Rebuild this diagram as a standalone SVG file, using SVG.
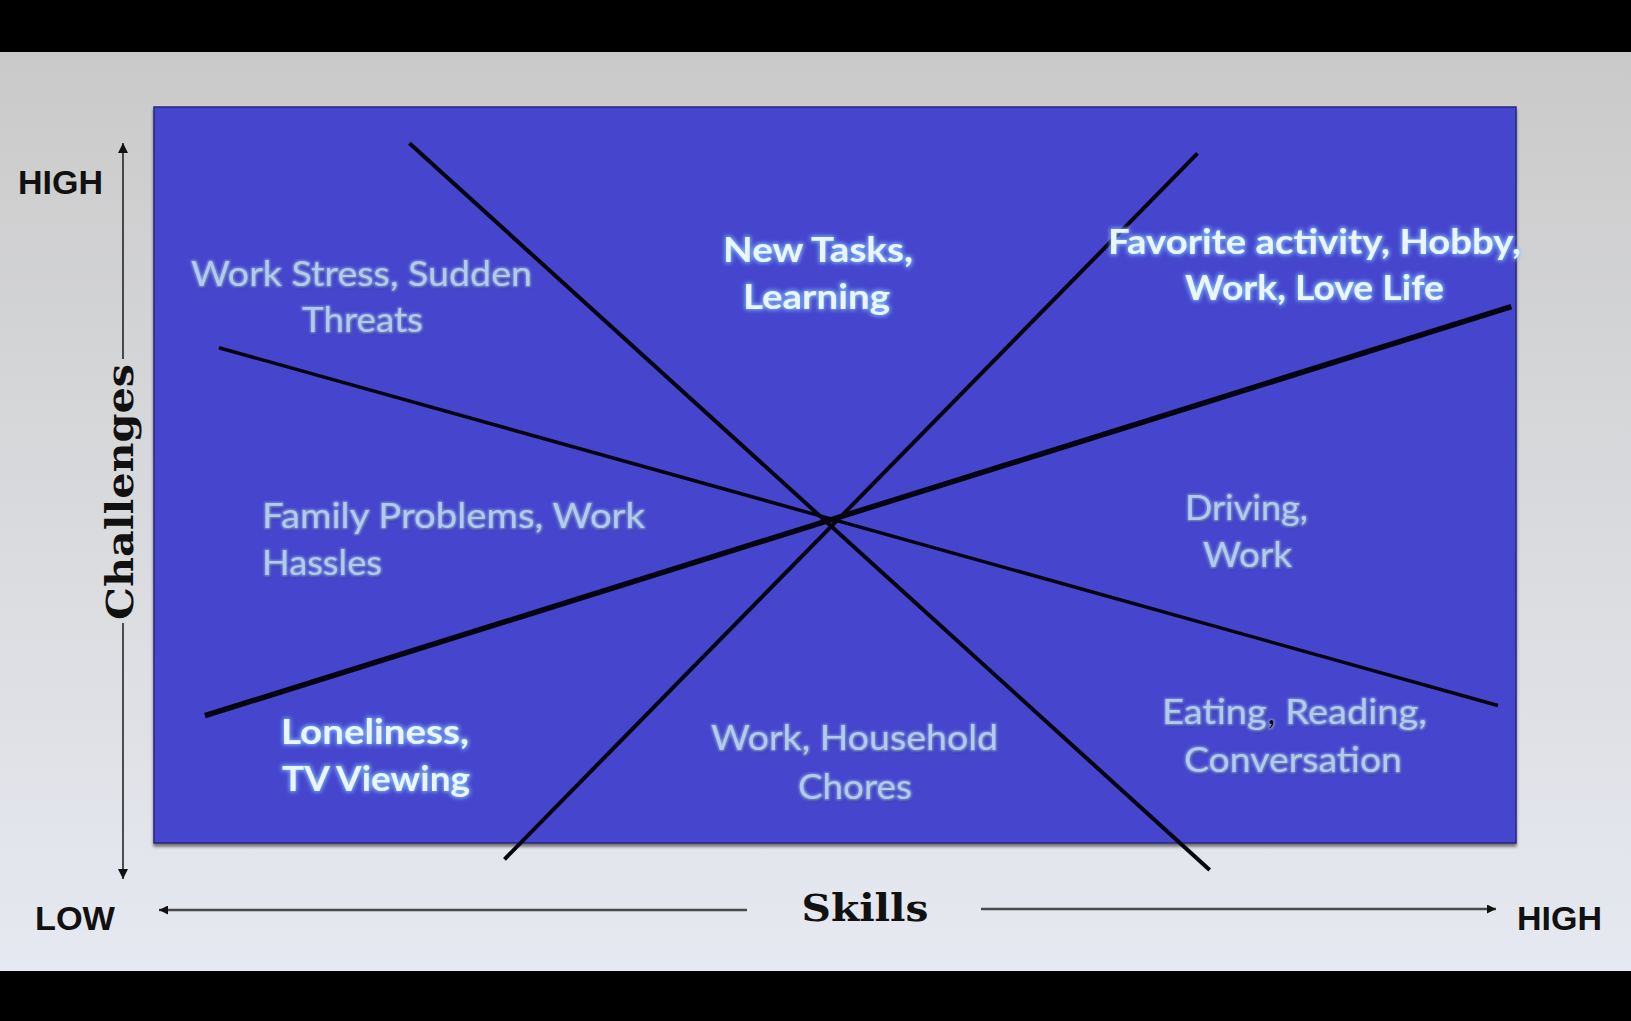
<svg xmlns="http://www.w3.org/2000/svg" width="1631" height="1021" viewBox="0 0 1631 1021">
  <defs>
    <linearGradient id="bg" x1="0" y1="0" x2="0" y2="1">
      <stop offset="0" stop-color="#cacaca"/>
      <stop offset="0.5" stop-color="#d9dadd"/>
      <stop offset="1" stop-color="#e6e9f1"/>
    </linearGradient>
    <!-- bright label: white-blue fill with a light blue halo -->
    <filter id="glowBright" x="-10%" y="-40%" width="120%" height="180%">
      <feMorphology in="SourceAlpha" operator="dilate" radius="1" result="d"/>
      <feGaussianBlur in="d" stdDeviation="2" result="b"/>
      <feFlood flood-color="#86c6ff" flood-opacity="0.85"/>
      <feComposite in2="b" operator="in" result="g"/>
      <feMerge><feMergeNode in="g"/><feMergeNode in="SourceGraphic"/></feMerge>
    </filter>
    <!-- muted label: grey-blue fill, faint halo and dark shadow -->
    <filter id="glowSoft" x="-10%" y="-40%" width="120%" height="180%">
      <feGaussianBlur in="SourceAlpha" stdDeviation="1.2" result="b"/>
      <feOffset in="b" dx="1" dy="1.5" result="o"/>
      <feFlood flood-color="#15155a" flood-opacity="0.7"/>
      <feComposite in2="o" operator="in" result="sh"/>
      <feMorphology in="SourceAlpha" operator="dilate" radius="0.8" result="d"/>
      <feGaussianBlur in="d" stdDeviation="1.3" result="b2"/>
      <feFlood flood-color="#a4c2ee" flood-opacity="0.55"/>
      <feComposite in2="b2" operator="in" result="gl"/>
      <feMerge><feMergeNode in="sh"/><feMergeNode in="gl"/><feMergeNode in="SourceGraphic"/></feMerge>
    </filter>
    <filter id="boxShadow" x="-5%" y="-5%" width="110%" height="110%">
      <feGaussianBlur in="SourceAlpha" stdDeviation="1.5" result="b"/>
      <feOffset in="b" dx="0" dy="2.5" result="o"/>
      <feFlood flood-color="#000" flood-opacity="0.5"/>
      <feComposite in2="o" operator="in" result="s"/>
      <feMerge><feMergeNode in="s"/><feMergeNode in="SourceGraphic"/></feMerge>
    </filter>
    <marker id="tipV" viewBox="0 0 10 10" refX="10" refY="5" markerWidth="10" markerHeight="10" markerUnits="userSpaceOnUse" orient="auto">
      <path d="M0,0 L10,5 L0,10 z" fill="#111"/>
    </marker>
    <marker id="tipH" viewBox="0 0 10 10" refX="10" refY="5" markerWidth="9" markerHeight="9" markerUnits="userSpaceOnUse" orient="auto">
      <path d="M0,0 L10,5 L0,10 z" fill="#111"/>
    </marker>
    <style>
      .lbl { font-family: Lato, "Open Sans", "Liberation Sans", sans-serif; font-size: 34px; }
      .soft { fill: #b3cbea; font-weight: 400; filter: url(#glowSoft); }
      .bright { fill: #e9f5ff; font-weight: 700; filter: url(#glowBright); }
      .axis { font-family: "Liberation Sans", Arial, sans-serif; font-weight: 700; font-size: 34px; fill: #111; }
      .title { font-family: "DejaVu Serif", "Liberation Serif", serif; font-weight: 700; font-size: 38px; fill: #111; }
      .div { stroke: #050510; stroke-linecap: butt; fill: none; }
    </style>
  </defs>

  <!-- frame -->
  <rect x="0" y="0" width="1631" height="1021" fill="#000"/>
  <rect x="0" y="52" width="1631" height="919" fill="url(#bg)"/>

  <!-- chart field -->
  <rect id="field" x="154" y="107" width="1362" height="736" fill="#4444cd" stroke="#26267a" stroke-width="1.5" filter="url(#boxShadow)"/>

  <!-- dividing lines and axes -->
  <g id="connectors">
    <line class="div" x1="409.5" y1="143.3" x2="1209.7" y2="870" stroke-width="4"/>
    <line class="div" x1="1197.5" y1="153.3" x2="504.5" y2="859.3" stroke-width="4"/>
    <line class="div" x1="218.9" y1="347.7" x2="1497.9" y2="705.5" stroke-width="3.5"/>
    <line class="div" x1="204.9" y1="715.7" x2="1511.3" y2="306.7" stroke-width="5.5"/>

    <line x1="123" y1="359" x2="123" y2="143" stroke="#1a1a1a" stroke-width="1.5" marker-end="url(#tipV)"/>
    <line x1="123" y1="623" x2="123" y2="879" stroke="#1a1a1a" stroke-width="1.5" marker-end="url(#tipV)"/>
    <line x1="747" y1="910" x2="159" y2="910" stroke="#4a4a4a" stroke-width="2.5" marker-end="url(#tipH)"/>
    <line x1="981" y1="909" x2="1496" y2="909" stroke="#4a4a4a" stroke-width="2.5" marker-end="url(#tipH)"/>
  </g>

  <!-- axis labels -->
  <g id="axis-labels">
    <text class="axis" x="18" y="194" textLength="85" lengthAdjust="spacingAndGlyphs">HIGH</text>
    <text class="axis" x="35" y="930" textLength="80" lengthAdjust="spacingAndGlyphs">LOW</text>
    <text class="axis" x="1517" y="930" textLength="85" lengthAdjust="spacingAndGlyphs">HIGH</text>
    <text class="title" x="865" y="921" text-anchor="middle" textLength="127" lengthAdjust="spacingAndGlyphs">Skills</text>
    <text class="title" transform="translate(133 492) rotate(-90)" x="0" y="0" text-anchor="middle" textLength="256" lengthAdjust="spacingAndGlyphs">Challenges</text>
  </g>

  <!-- activity labels -->
  <g id="anxiety">
    <text class="lbl soft" x="361.5" y="286" text-anchor="middle" textLength="341" lengthAdjust="spacingAndGlyphs">Work Stress, Sudden</text>
    <text class="lbl soft" x="362.5" y="332" text-anchor="middle" textLength="121" lengthAdjust="spacingAndGlyphs">Threats</text>
  </g>
  <g id="arousal">
    <text class="lbl bright" x="818" y="262" text-anchor="middle" textLength="190" lengthAdjust="spacingAndGlyphs">New Tasks,</text>
    <text class="lbl bright" x="816.5" y="309" text-anchor="middle" textLength="147" lengthAdjust="spacingAndGlyphs">Learning</text>
  </g>
  <g id="flow">
    <text class="lbl bright" x="1314.5" y="254" text-anchor="middle" textLength="413" lengthAdjust="spacingAndGlyphs">Favorite activity, Hobby,</text>
    <text class="lbl bright" x="1314.5" y="300" text-anchor="middle" textLength="259" lengthAdjust="spacingAndGlyphs">Work, Love Life</text>
  </g>
  <g id="worry">
    <text class="lbl soft" x="262" y="528" textLength="383" lengthAdjust="spacingAndGlyphs">Family Problems, Work</text>
    <text class="lbl soft" x="262" y="575" textLength="120" lengthAdjust="spacingAndGlyphs">Hassles</text>
  </g>
  <g id="control">
    <text class="lbl soft" x="1246.5" y="520" text-anchor="middle" textLength="123" lengthAdjust="spacingAndGlyphs">Driving,</text>
    <text class="lbl soft" x="1247.5" y="567" text-anchor="middle" textLength="89" lengthAdjust="spacingAndGlyphs">Work</text>
  </g>
  <g id="relaxation">
    <text class="lbl soft" x="1294.5" y="724" text-anchor="middle" textLength="265" lengthAdjust="spacingAndGlyphs">Eating<tspan fill="#0a0a20">,</tspan> Reading,</text>
    <text class="lbl soft" x="1293" y="772" text-anchor="middle" textLength="218" lengthAdjust="spacingAndGlyphs">Conversation</text>
  </g>
  <g id="apathy">
    <text class="lbl bright" x="375" y="744" text-anchor="middle" textLength="188" lengthAdjust="spacingAndGlyphs">Loneliness,</text>
    <text class="lbl bright" x="376" y="791" text-anchor="middle" textLength="188" lengthAdjust="spacingAndGlyphs">TV Viewing</text>
  </g>
  <g id="boredom">
    <text class="lbl soft" x="854.5" y="750" text-anchor="middle" textLength="287" lengthAdjust="spacingAndGlyphs">Work, Household</text>
    <text class="lbl soft" x="855" y="799" text-anchor="middle" textLength="114" lengthAdjust="spacingAndGlyphs">Chores</text>
  </g>
</svg>
